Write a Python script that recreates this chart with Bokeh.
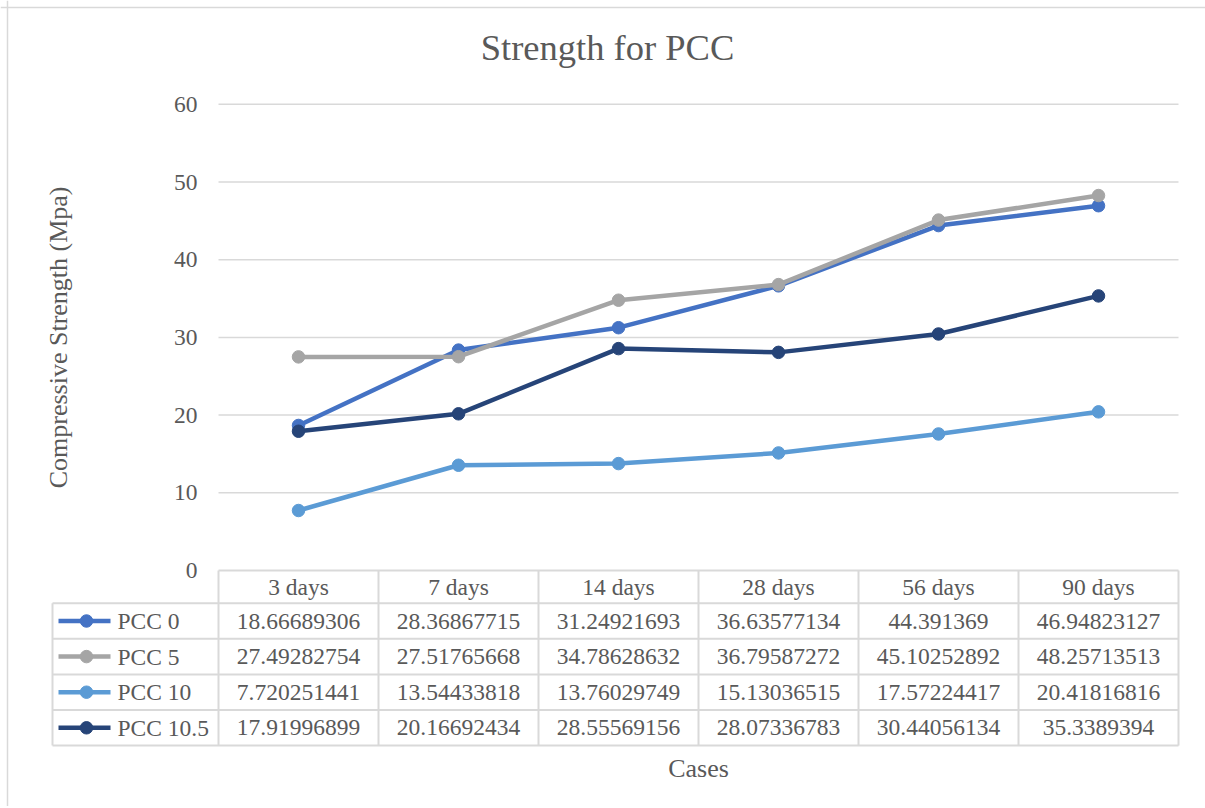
import math
from bokeh.plotting import figure
from bokeh.models import Range1d, ColumnDataSource, Span
from bokeh.core.properties import value
from bokeh.embed import file_html
from bokeh.resources import INLINE

# ---------------- data ----------------
categories = ["3 days", "7 days", "14 days", "28 days", "56 days", "90 days"]
series_names = ["PCC 0", "PCC 5", "PCC 10", "PCC 10.5"]
pcc0 = [18.66689306, 28.36867715, 31.24921693, 36.63577134, 44.391369, 46.94823127]
pcc5 = [27.49282754, 27.51765668, 34.78628632, 36.79587272, 45.10252892, 48.25713513]
pcc10 = [7.720251441, 13.54433818, 13.76029749, 15.13036515, 17.57224417, 20.41816816]
pcc105 = [17.91996899, 20.16692434, 28.55569156, 28.07336783, 30.44056134, 35.3389394]
y_ticks = [0, 10, 20, 30, 40, 50, 60]
title_text = "Strength for PCC"
y_label = "Compressive Strength (Mpa)"
x_label = "Cases"

series_values = [pcc0, pcc5, pcc10, pcc105]
colors = ["#4472C4", "#A5A5A5", "#5B9BD5", "#264478"]

# ---------------- style ----------------
FONT = value("Liberation Serif")
TXT = "#595959"
GRID = "#d9d9d9"
FS = "23.5px"
FS_AX = "26px"
FS_TITLE = "36.5px"
W, H = 1205, 806
px_per_cat = 160.0
px_per_unit = 7.77
zero_px = 570.0          # px of value 0 (from top)
cat0_px = 298.0          # px of first category centre
header_h = 32.7 / px_per_unit
row_h = 35.6 / px_per_unit

def dx(px):
    return (px - cat0_px) / px_per_cat

def dy(px):
    return (zero_px - px) / px_per_unit

leg_left = dx(52)

x_start, x_end = dx(0), dx(W)
y_start, y_end = dy(H), dy(0)

p = figure(width=W, height=H, output_backend="svg", toolbar_location=None,
           x_range=Range1d(x_start, x_end), y_range=Range1d(y_start, y_end),
           min_border=0)
p.axis.visible = False
p.grid.visible = False
p.outline_line_color = None
p.background_fill_color = "white"
p.border_fill_color = "white"

# chart border (left & top edge)
p.add_layout(Span(location=dx(7), dimension="height", line_color=GRID, line_width=1.5))
p.add_layout(Span(location=dy(7), dimension="width", line_color=GRID, line_width=1.5))

n = len(categories)
xs = list(range(n))
left, right = -0.5, n - 0.5

# gridlines (value > 0; 0 is the table top)
gt = [t for t in y_ticks if t > 0]
p.segment(x0=[left] * len(gt), x1=[right] * len(gt), y0=gt, y1=gt,
          line_color=GRID, line_width=1.5)

# y tick labels
p.text(x=[left] * len(y_ticks), y=y_ticks, text=[str(t) for t in y_ticks],
       x_offset=-21, text_align="right", text_baseline="middle",
       text_font=FONT, text_font_size=FS, text_color=TXT)

# series
for name, vals, c in zip(series_names, series_values, colors):
    src = ColumnDataSource(dict(x=xs, y=vals))
    p.line("x", "y", source=src, line_color=c, line_width=4.5)
    p.scatter("x", "y", source=src, size=12.5, fill_color=c, line_color=c)

# ---------------- data table ----------------
row_tops = [-header_h - i * row_h for i in range(len(series_names) + 1)]
p.segment(x0=[left], x1=[right], y0=[0], y1=[0], line_color=GRID, line_width=2)
p.segment(x0=[leg_left] * len(row_tops), x1=[right] * len(row_tops),
          y0=row_tops, y1=row_tops, line_color=GRID, line_width=2)
vx = [left + i for i in range(n + 1)]
p.segment(x0=vx, x1=vx, y0=[0] * len(vx), y1=[row_tops[-1]] * len(vx),
          line_color=GRID, line_width=2)
p.segment(x0=[leg_left], x1=[leg_left], y0=[row_tops[0]], y1=[row_tops[-1]],
          line_color=GRID, line_width=2)

p.text(x=xs, y=[-header_h / 2] * n, text=categories, text_align="center",
       text_baseline="middle", text_font=FONT, text_font_size=FS, text_color=TXT)

for r, (name, vals, c) in enumerate(zip(series_names, series_values, colors)):
    yc = row_tops[r] - row_h / 2
    p.text(x=xs, y=[yc] * n, text=[str(v) for v in vals], text_align="center",
           text_baseline="middle", text_font=FONT, text_font_size=FS, text_color=TXT)
    p.segment(x0=[dx(58)], x1=[dx(110)], y0=[yc], y1=[yc], line_color=c, line_width=4.5)
    p.scatter(x=[dx(86)], y=[yc], size=12.5, fill_color=c, line_color=c)
    p.text(x=[dx(117)], y=[yc], text=[name], text_align="left", text_baseline="middle",
           text_font=FONT, text_font_size=FS, text_color=TXT)

# title
p.text(x=[dx(607)], y=[dy(47)], text=[title_text],
       text_align="center", text_baseline="middle", text_font=FONT,
       text_font_size=FS_TITLE, text_color=TXT)

# y axis label
p.text(x=[dx(58)], y=[(y_ticks[0] + y_ticks[-1]) / 2], text=[y_label],
       angle=math.pi / 2, text_align="center", text_baseline="middle",
       text_font=FONT, text_font_size=FS_AX, text_color=TXT)

# x axis label
p.text(x=[(n - 1) / 2], y=[dy(768)], text=[x_label],
       text_align="center", text_baseline="middle", text_font=FONT,
       text_font_size=FS_AX, text_color=TXT)

open("out.html", "w").write(file_html(p, INLINE))
